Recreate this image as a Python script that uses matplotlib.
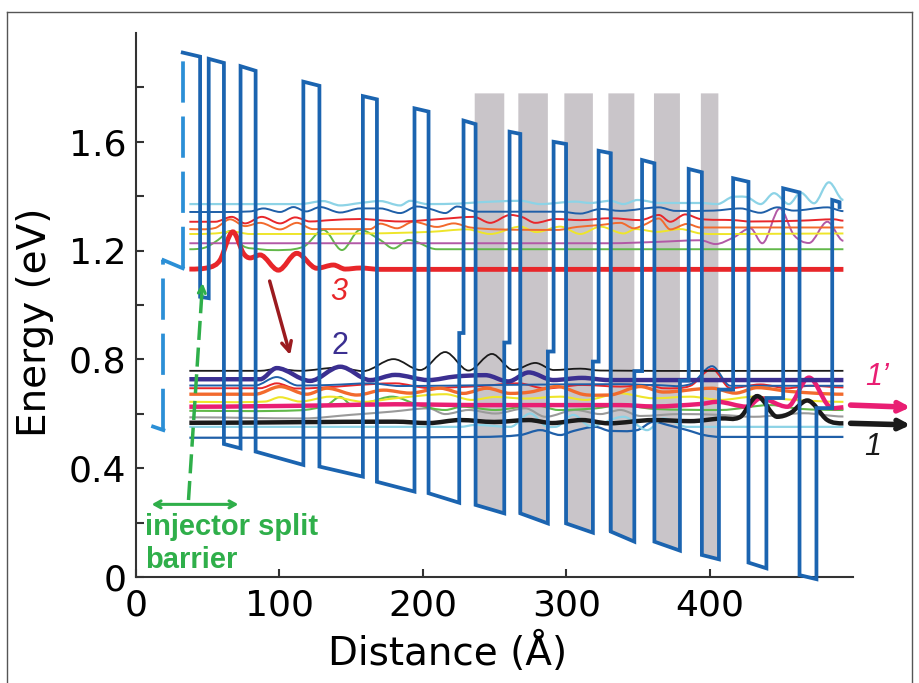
import numpy as np
import matplotlib
matplotlib.use('Agg')
import matplotlib.pyplot as plt
from matplotlib.path import Path
from matplotlib.patches import PathPatch, Polygon
from matplotlib.lines import Line2D

# conduction band edge, distance (A) / energy (eV)
band_x = [32.6, 44.7, 44.7, 50.7, 50.7, 61.3, 61.3, 72.9, 72.9, 83.4, 83.4, 116.7,
          116.7, 127.9, 127.9, 158.2, 158.2, 168.0, 168.0, 194.2, 194.2, 204.0, 204.0, 225.4,
          225.4, 228.4, 228.4, 236.8, 236.8, 256.8, 256.8, 260.5, 260.5, 268.0, 268.0, 287.2,
          287.2, 291.2, 291.2, 299.9, 299.9, 318.6, 318.6, 322.6, 322.6, 331.1, 331.1, 347.5,
          347.5, 352.9, 352.9, 361.5, 361.5, 379.3, 379.3, 385.4, 385.4, 394.6, 394.6, 406.5,
          406.5, 416.4, 416.4, 427.1, 427.1, 439.6, 439.6, 451.3, 451.3, 462.7, 462.7, 474.5,
          474.5, 485.5, 485.5, 490.6, 490.6]
band_e = [1.928, 1.913, 1.030, 1.025, 1.905, 1.890, 0.489, 0.473, 1.878, 1.861, 0.461, 0.412,
          1.821, 1.806, 0.406, 0.369, 1.768, 1.756, 0.350, 0.314, 1.723, 1.711, 0.308, 0.273,
          0.897, 0.897, 1.678, 1.665, 0.265, 0.234, 0.862, 0.862, 1.637, 1.629, 0.234, 0.197,
          0.829, 0.829, 1.600, 1.592, 0.197, 0.163, 0.792, 0.792, 1.567, 1.558, 0.167, 0.130,
          0.757, 0.757, 1.533, 1.521, 0.130, 0.097, 0.722, 0.722, 1.500, 1.488, 0.081, 0.065,
          0.689, 0.689, 1.466, 1.453, 0.053, 0.032, 0.658, 0.658, 1.429, 1.414, 0.007, -0.008,
          0.621, 0.621, 1.386, 1.378, 1.360]

# injector split barrier (previous period, light blue)
inj_x = [11.9, 19.1, 19.1, 32.6, 32.6]
inj_e = [0.553, 0.540, 1.165, 1.135, 1.928]

# shaded wells
gray_x0 = [236.2, 266.6, 298.7, 329.4, 361.2, 393.9]
gray_x1 = [256.8, 287.2, 318.6, 347.5, 379.3, 406.1]
gray_b0 = [0.265, 0.234, 0.197, 0.167, 0.130, 0.081]
gray_b1 = [0.234, 0.197, 0.163, 0.130, 0.097, 0.067]
gray_top = 1.778

# wavefunctions (distance, energy)
cyan_hi = [(37.2,1.371),(114.4,1.371),(130.5,1.382),(142.4,1.366),(156.3,1.375),(170.3,1.382),(184.2,1.366),
           (191.2,1.383),(203.1,1.371),(226.1,1.373),(240.1,1.378),(268.0,1.383),(281.9,1.371),(306.4,1.380),
           (316.8,1.375),(330.8,1.383),(339.9,1.371),(349.7,1.386),(365.7,1.375),(393.6,1.375),(405.3,1.371),
           (416.9,1.398),(426.3,1.396),(435.6,1.371),(444.9,1.411),(455.3,1.371),(463.5,1.413),(472.8,1.374),
           (483.2,1.451),(493.3,1.386)]
blue_hi = [(37.2,1.342),(79.6,1.344),(88.9,1.355),(100.5,1.342),(109.8,1.360),(118.7,1.344),(128.4,1.360),
           (142.4,1.340),(156.3,1.355),(170.3,1.355),(184.2,1.338),(195.9,1.362),(205.2,1.353),(215.7,1.338),
           (223.9,1.362),(237.8,1.343),(295.9,1.343),(309.8,1.336),(323.8,1.353),(337.8,1.346),(364.6,1.359),
           (376.2,1.346),(402.9,1.347),(421.5,1.355),(435.4,1.339),(447.2,1.359),(458.6,1.347),(482.1,1.359),
           (493.3,1.345)]
red_hi = [(37.2,1.306),(55.1,1.306),(66.8,1.324),(76.1,1.300),(87.7,1.324),(100.5,1.300),(111.0,1.322),
          (121.4,1.307),(135.4,1.312),(156.3,1.316),(184.2,1.307),(212.1,1.316),(235.4,1.324),(247.0,1.302),
          (261.0,1.331),(269.4,1.323),(278.5,1.302),(292.5,1.316),(309.8,1.312),(330.8,1.319),(351.7,1.312),
          (364.6,1.331),(372.6,1.306),(383.1,1.333),(393.6,1.316),(416.7,1.312),(428.5,1.307),(463.4,1.310),
          (486.5,1.315),(493.3,1.310)]
orange_hi = [(37.2,1.279),(55.1,1.283),(65.6,1.315),(76.1,1.290),(86.5,1.302),(100.5,1.278),(112.2,1.302),
             (123.5,1.279),(163.3,1.279),(170.3,1.299),(182.0,1.282),(193.4,1.306),(209.9,1.287),(221.5,1.300),
             (233.1,1.285),(251.8,1.278),(293.7,1.276),(307.6,1.287),(323.8,1.294),(337.8,1.302),(347.1,1.282),
             (354.1,1.294),(364.6,1.318),(372.6,1.278),(384.3,1.298),(393.6,1.285),(493.3,1.285)]
yellow_hi = [(37.2,1.261),(55.1,1.263),(67.0,1.270),(79.6,1.261),(163.3,1.263),(205.2,1.269),(230.8,1.278),
             (247.0,1.261),(268.0,1.288),(279.1,1.268),(295.9,1.288),(309.8,1.261),(323.8,1.288),(340.1,1.263),
             (348.3,1.279),(363.5,1.269),(379.6,1.279),(393.6,1.263),(416.7,1.261),(493.3,1.263)]
magenta_hi = [(37.2,1.227),(330.0,1.227),(363.5,1.232),(393.6,1.238),(404.1,1.224),(416.9,1.249),(428.5,1.282),
              (436.7,1.227),(449.0,1.355),(458.8,1.257),(469.3,1.228),(482.1,1.306),(493.3,1.236)]
green_hi = [(37.2,1.205),(48.1,1.211),(57.2,1.239),(65.6,1.272),(74.7,1.217),(85.1,1.206),(93.5,1.202),
            (116.7,1.214),(130.7,1.276),(143.6,1.202),(156.3,1.276),(170.3,1.239),(179.6,1.208),(190.1,1.239),
            (209.9,1.205),(493.3,1.205)]
red_3 = [(37.2,1.132),(51.6,1.139),(58.6,1.165),(67.5,1.269),(74.9,1.190),(79.6,1.173),(86.5,1.184),
         (99.3,1.128),(112.1,1.190),(126.1,1.135),(137.7,1.147),(145.9,1.132),(156.3,1.136),(170.3,1.131),
         (493.3,1.131)]

black_thin = [(37.2,0.758),(86.5,0.758),(98.1,0.765),(114.4,0.758),(141.1,0.770),(158.4,0.757),(179.6,0.801),
              (198.2,0.761),(215.6,0.827),(231.9,0.759),(248.2,0.820),(263.0,0.761),(278.5,0.787),(291.3,0.761),
              (309.8,0.766),(323.8,0.759),(493.3,0.758)]
purple_2 = [(37.2,0.727),(86.5,0.727),(98.1,0.768),(121.4,0.721),(142.4,0.773),(163.3,0.724),(180.7,0.743),
            (204.0,0.724),(222.6,0.737),(243.6,0.742),(259.6,0.719),(273.9,0.752),(291.0,0.724),(311.0,0.732),
            (329.6,0.724),(493.3,0.724)]
blue_lo = [(37.2,0.704),(83.0,0.704),(98.1,0.735),(113.0,0.704),(135.4,0.706),(163.3,0.712),(184.2,0.702),
           (254.0,0.706),(337.8,0.709),(361.0,0.706),(386.6,0.709),(401.7,0.775),(414.5,0.703),(493.3,0.703)]
red_lo = [(37.2,0.694),(86.5,0.694),(98.1,0.712),(111.7,0.693),(180.7,0.712),(203.8,0.695),(240.1,0.702),
          (266.8,0.712),(285.5,0.693),(311.0,0.706),(337.8,0.700),(356.6,0.706),(367.9,0.694),(386.6,0.703),
          (401.7,0.765),(414.5,0.694),(435.4,0.708),(454.2,0.694),(470.3,0.703),(493.3,0.697)]
orange_lo = [(37.2,0.672),(83.0,0.672),(100.5,0.700),(119.1,0.672),(133.1,0.694),(154.0,0.669),(172.6,0.687),
             (191.2,0.676),(212.1,0.694),(228.2,0.675),(244.7,0.694),(261.0,0.675),(274.9,0.680),(293.7,0.700),
             (312.1,0.671),(329.6,0.669),(351.7,0.700),(367.8,0.680),(401.7,0.694),(418.0,0.676),(433.2,0.696),
             (456.4,0.682),(493.3,0.672)]
yellow_lo = [(37.2,0.644),(90.0,0.645),(100.5,0.661),(114.4,0.645),(135.4,0.663),(158.7,0.644),(180.7,0.657),
             (215.7,0.672),(234.3,0.651),(250.6,0.662),(271.5,0.656),(295.9,0.663),(313.4,0.651),(337.8,0.675),
             (361.0,0.657),(386.6,0.663),(407.5,0.651),(430.8,0.663),(458.7,0.651),(493.3,0.644)]
pink_1p = [(37.2,0.626),(135.4,0.631),(180.7,0.635),(240.1,0.632),(337.8,0.632),(361.0,0.627),(393.6,0.636),
           (405.3,0.644),(426.3,0.626),(435.4,0.657),(454.2,0.626),(469.3,0.733),(483.0,0.629),(493.3,0.624)]
green_lo = [(37.2,0.611),(114.4,0.613),(133.1,0.632),(142.4,0.662),(150.7,0.632),(163.3,0.644),(178.4,0.663),
            (197.0,0.632),(215.6,0.614),(227.3,0.626),(250.5,0.614),(278.4,0.632),(294.7,0.614),(320.3,0.620),
            (337.8,0.632),(361.0,0.618),(407.5,0.614),(442.4,0.632),(463.4,0.618),(493.3,0.614)]
gray_lo = [(37.2,0.587),(116.5,0.583),(149.3,0.596),(178.4,0.608),(204.0,0.620),(215.6,0.599),(231.9,0.614),
           (250.5,0.601),(271.5,0.620),(285.5,0.589),(306.4,0.614),(323.8,0.599),(337.8,0.614),(351.7,0.592),
           (379.6,0.599),(407.5,0.596),(430.8,0.589),(465.7,0.602),(493.3,0.590)]
black_1 = [(37.2,0.567),(180.7,0.571),(204.0,0.566),(226.1,0.577),(249.8,0.570),(273.8,0.577),(290.1,0.566),
           (311.0,0.577),(329.6,0.565),(361.0,0.577),(386.6,0.573),(407.5,0.583),(421.5,0.589),(433.2,0.665),
           (447.2,0.589),(456.4,0.603),(468.1,0.649),(482.1,0.577),(493.3,0.565)]
cyan_lo = [(37.2,0.552),(226.1,0.552),(236.6,0.559),(261.0,0.552),(274.9,0.601),(285.5,0.555),(292.5,0.552),
           (305.0,0.596),(316.8,0.555),(340.1,0.589),(356.4,0.540),(368.0,0.583),(384.4,0.552),(493.3,0.552)]
blue_bot = [(37.2,0.512),(240.1,0.515),(268.0,0.522),(281.9,0.540),(295.9,0.522),(305.2,0.537),(320.3,0.552),
            (330.8,0.537),(349.5,0.540),(361.0,0.571),(370.6,0.559),(384.4,0.540),(396.0,0.522),(407.5,0.515),
            (493.3,0.515)]

BLUE = '#1b64b0'
LBLUE = '#2b8fd6'
GREEN = '#2faf4a'

waves = [
    (green_hi, '#62b84a', 1.4), (magenta_hi, '#b259a6', 1.4), (yellow_hi, '#eee52a', 1.4),
    (orange_hi, '#f26a2d', 1.4), (red_hi, '#e8262a', 1.4), (blue_hi, '#1f5fa8', 1.4),
    (cyan_hi, '#8dd3e6', 1.6), (red_3, '#e8262a', 3.5),
    (blue_bot, '#1f5fa8', 1.6), (cyan_lo, '#8dd3e6', 1.6), (gray_lo, '#9a9a9a', 1.5),
    (green_lo, '#62b84a', 1.5), (yellow_lo, '#eee52a', 1.5), (red_lo, '#e8262a', 1.4),
    (blue_lo, '#1f5fa8', 1.4), (orange_lo, '#f26a2d', 2.4), (black_thin, '#1a1a1a', 1.3),
    (pink_1p, '#e91e73', 3.2), (purple_2, '#3b2f91', 3.2), (black_1, '#1a1a1a', 3.2),
]


def smooth_path(pts):
    # piecewise cubic through the read points (flat slope at extrema)
    xs = np.array([p[0] for p in pts])
    ys = np.array([p[1] for p in pts])
    n = len(xs)
    m = np.zeros(n)
    for i in range(1, n - 1):
        d0 = ys[i] - ys[i - 1]
        d1 = ys[i + 1] - ys[i]
        if d0 * d1 > 0:
            m[i] = (ys[i + 1] - ys[i - 1]) / (xs[i + 1] - xs[i - 1])
    verts = [(xs[0], ys[0])]
    codes = [Path.MOVETO]
    for i in range(n - 1):
        h = xs[i + 1] - xs[i]
        verts += [(xs[i] + h / 3, ys[i] + m[i] * h / 3),
                  (xs[i + 1] - h / 3, ys[i + 1] - m[i + 1] * h / 3),
                  (xs[i + 1], ys[i + 1])]
        codes += [Path.CURVE4] * 3
    return Path(verts, codes)


fig = plt.figure(figsize=(9.19, 6.83), dpi=100)
ax = fig.add_axes([0.148, 0.1552, 0.7802, 0.7965])
ax.set_xlim(0, 500)
ax.set_ylim(0, 2.0)

# shaded wells
for x0, x1, b0, b1 in zip(gray_x0, gray_x1, gray_b0, gray_b1):
    ax.add_patch(Polygon([(x0, gray_top), (x1, gray_top), (x1, b1), (x0, b0)],
                         closed=True, facecolor='#c9c5c9', edgecolor='none', zorder=1))

# wavefunctions
for pts, col, lw in waves:
    ax.add_patch(PathPatch(smooth_path(pts), fill=False, edgecolor=col, lw=lw,
                           zorder=3, capstyle='butt'))

# band edge
ax.plot(band_x, band_e, color=BLUE, lw=2.7, solid_joinstyle='miter', zorder=5, clip_on=False)
ax.plot(inj_x[0:2], inj_e[0:2], color=LBLUE, lw=2.7, zorder=5, clip_on=False)
ax.plot(inj_x[2:4], inj_e[2:4], color=LBLUE, lw=2.7, zorder=5, clip_on=False)
ax.plot(inj_x[1:3], inj_e[1:3], color=LBLUE, lw=2.7, ls=(0, (11, 3.7)), zorder=5, clip_on=False)
ax.plot(inj_x[3:5], inj_e[3:5], color=LBLUE, lw=2.7, ls=(0, (11, 3.7)), zorder=5, clip_on=False)

# axes styling
for s in ['top', 'right']:
    ax.spines[s].set_visible(False)
for s in ['left', 'bottom']:
    ax.spines[s].set_linewidth(1.5)
    ax.spines[s].set_color('#333333')
ax.set_xticks([0, 100, 200, 300, 400])
ax.set_xticklabels(['0', '100', '200', '300', '400'])
ax.set_yticks([0, 0.4, 0.8, 1.2, 1.6])
ax.set_yticklabels(['0', '0.4', '0.8', '1.2', '1.6'])
ax.set_yticks([0.2, 0.6, 1.0, 1.4, 1.8], minor=True)
ax.tick_params(which='both', direction='in', length=6, width=1.5, color='#333333')
ax.tick_params(axis='y', labelsize=26, pad=7)
ax.tick_params(axis='x', labelsize=26, pad=8)

fig.text(35 / 919, 1 - 322 / 683, 'Energy (eV)', rotation=90, ha='center', va='center', fontsize=28)
fig.text(448 / 919, 1 - 652 / 683, 'Distance (Å)', ha='center', va='center', fontsize=28)

# annotations
ann = dict(family=['Liberation Sans', 'DejaVu Sans'])
ax.text(141.5, 1.049, '3', color='#e8262a', fontsize=22, style='italic', ha='center', va='center', **ann)
ax.text(142.4, 0.849, '2', color='#3b2f91', fontsize=22, ha='center', va='center', **ann)
ax.text(517.1, 0.735, '1’', color='#e91e73', fontsize=22, style='italic', ha='center', va='center',
        clip_on=False, **ann)
ax.text(513.4, 0.479, '1', color='#1a1a1a', fontsize=22, style='italic', ha='center', va='center',
        clip_on=False, **ann)

ax.annotate('', xy=(107.5, 0.816), xytext=(93.2, 1.088),
            arrowprops=dict(arrowstyle='->,head_length=0.7,head_width=0.35', color='#9b1b1f',
                            lw=2.5, shrinkA=0, shrinkB=0))
ax.annotate('', xy=(540.1, 0.624), xytext=(498.3, 0.632), annotation_clip=False,
            arrowprops=dict(arrowstyle='->,head_length=0.6,head_width=0.3', color='#e91e73',
                            lw=4, shrinkA=0, shrinkB=0))
ax.annotate('', xy=(540.1, 0.559), xytext=(498.3, 0.565), annotation_clip=False,
            arrowprops=dict(arrowstyle='->,head_length=0.6,head_width=0.3', color='#1a1a1a',
                            lw=4, shrinkA=0, shrinkB=0))

ax.plot([36.6, 46.2], [0.283, 1.065], color=GREEN, lw=2.5, ls=(0, (5.5, 2.2)), zorder=6)
ax.annotate('', xy=(46.4, 1.081), xytext=(45.6, 1.02),
            arrowprops=dict(arrowstyle='->,head_length=0.5,head_width=0.25', color=GREEN,
                            lw=2.2, shrinkA=0, shrinkB=0), zorder=6)
ax.annotate('', xy=(71.4, 0.267), xytext=(10.9, 0.267),
            arrowprops=dict(arrowstyle='<->,head_length=0.45,head_width=0.25', color=GREEN,
                            lw=2.2, shrinkA=0, shrinkB=0))
ax.text(6.3, 0.184, 'injector split', color=GREEN, fontsize=21, fontweight='bold',
        ha='left', va='center', **ann)
ax.text(6.3, 0.0625, 'barrier', color=GREEN, fontsize=21, fontweight='bold',
        ha='left', va='center', **ann)

# outer frame
for xs, ys in [([7, 912], [12, 12]), ([7, 7], [12, 683]), ([912, 912], [12, 683])]:
    fig.add_artist(Line2D([x / 919 for x in xs], [1 - y / 683 for y in ys],
                          transform=fig.transFigure, color='#555555', lw=1))

fig.savefig('out.png', dpi=100)
